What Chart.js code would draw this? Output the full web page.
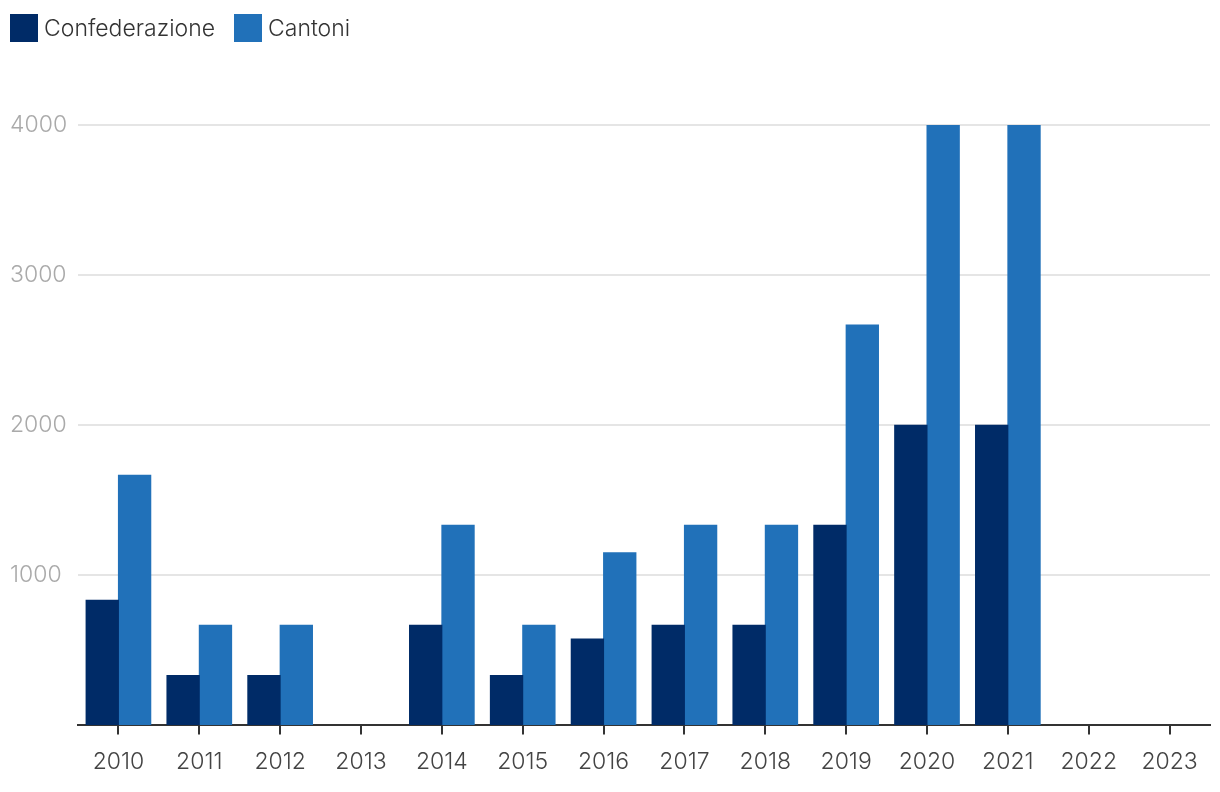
<!DOCTYPE html>
<html>
<head>
<meta charset="utf-8">
<script src="https://cdn.jsdelivr.net/npm/chart.js@4"></script>
<style>
html,body{margin:0;padding:0;background:#fff;}
#wrap{width:1220px;height:792px;position:relative;}
#legend{position:absolute;left:10px;top:14px;display:flex;align-items:center;font-family:Inter,Roboto,sans-serif;font-weight:300;font-size:23px;color:#333;line-height:28px;}
.item{display:flex;align-items:center;margin-right:19px;}
.sw{width:28px;height:28px;margin-right:6px;}
canvas{position:absolute;left:0;top:0;}
</style>
</head>
<body>
<div id="wrap"><canvas id="c" width="1220" height="792"></canvas><div id="legend"></div></div>
<script>
const categories = ["2010","2011","2012","2013","2014","2015","2016","2017","2018","2019","2020","2021","2022","2023"];
const confederazione = [833, 333, 333, null, 667, 333, 575, 667, 667, 1333, 2000, 2000, null, null];
const cantoni = [1667, 667, 667, null, 1333, 667, 1150, 1333, 1333, 2667, 4000, 4000, null, null];
const yTicks = [1000, 2000, 3000, 4000];
const seriesNames = ["Confederazione", "Cantoni"];
const seriesColors = ["#002b67", "#2171b9"];

const FONT = "Inter, Roboto, sans-serif";

const chart = new Chart(document.getElementById('c'), {
  type: 'bar',
  data: {
    labels: categories,
    datasets: [
      { label: seriesNames[0], data: confederazione, backgroundColor: seriesColors[0], borderWidth: 0, inflateAmount: 0.5 },
      { label: seriesNames[1], data: cantoni, backgroundColor: seriesColors[1], borderWidth: 0, inflateAmount: 0.5 }
    ]
  },
  options: {
    responsive: false,
    animation: false,
    devicePixelRatio: 1,
    layout: { padding: { left: 10, right: 10, top: 125, bottom: 2 } },
    datasets: { bar: { categoryPercentage: 0.8, barPercentage: 1.0 } },
    plugins: {
      tooltip: { enabled: false },
      legend: { display: false }
    },
    scales: {
      x: {
        offset: true,
        grid: { display: true, drawOnChartArea: false, drawTicks: true, tickLength: 9, offset: false, color: '#333', lineWidth: 2 },
        border: { display: true, color: '#333', width: 2 },
        ticks: { color: '#444', padding: 14, font: { family: FONT, size: 23, weight: 300 }, maxRotation: 0, autoSkip: false }
      },
      y: {
        min: 0, max: 4000,
        afterBuildTicks: (axis) => { axis.ticks = [0, ...yTicks].map(v => ({ value: v })); },
        afterFit: (s) => { s.width = 68; },
        grid: { color: '#e5e5e5', lineWidth: 2, drawTicks: false },
        border: { display: false },
        ticks: {
          color: '#aaa', padding: 13, crossAlign: 'far',
          font: { family: FONT, size: 23, weight: 300 },
          callback: (v) => v === 0 ? '' : String(v)
        }
      }
    }
  }
});

const lg = document.getElementById('legend');
seriesNames.forEach((n, i) => {
  const it = document.createElement('div'); it.className = 'item';
  const sw = document.createElement('div'); sw.className = 'sw'; sw.style.background = seriesColors[i];
  const tx = document.createElement('span'); tx.textContent = n;
  it.appendChild(sw); it.appendChild(tx); lg.appendChild(it);
});
</script>
</body>
</html>
